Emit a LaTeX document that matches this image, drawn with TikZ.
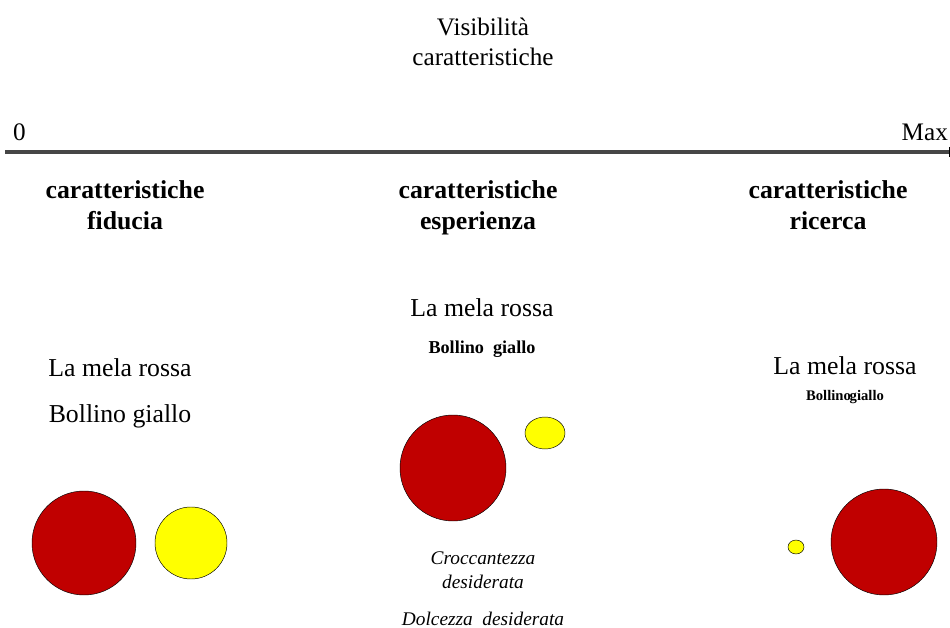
\documentclass[tikz,border=0pt]{standalone}
\usepackage{fontspec}
\setmainfont{Liberation Serif}
\definecolor{mela}{RGB}{192,0,0}
\definecolor{bollino}{RGB}{255,255,0}
\newcommand{\fs}[2]{\fontsize{#1}{#2}\selectfont}
\tikzset{
  apple/.style={circle, draw=black, thin, fill=mela, inner sep=0pt},
  sticker/.style={ellipse, draw=black, thin, fill=bollino, inner sep=0pt},
  header/.style={align=center, anchor=north, inner sep=0pt, font=\fs{22pt}{27pt}\bfseries},
  label/.style={align=center, font=\fs{22pt}{26pt}}
}
\usetikzlibrary{shapes.geometric}
\begin{document}
\begin{tikzpicture}[x=0.03cm, y=-0.03cm]
      \useasboundingbox (0,0) rectangle (950,628);
      \node[label, font=\fs{21.5pt}{26pt}] (vis) at (483,27) {Visibilità};
      \node[label, font=\fs{21.5pt}{26pt}] (car) at (483,57) {caratteristiche};
      % asse della visibilita
      \node[label, font=\fs{21.5pt}{26pt}, anchor=west] (zero) at (9,132) {0};
      \node[label, font=\fs{21.5pt}{26pt}, anchor=east] (max) at (952,132) {Max};
      \coordinate (start) at (5,152);
      \coordinate (end) at (950,152);
      \draw[line width=2.6pt, color=gray!55!black] (start) -- (end);
      \draw[line width=0.8pt] (949,147) -- (949,157);
      \node[header] (fid) at (125,180) {caratteristiche\\fiducia};
      \node[header] (esp) at (478,180) {caratteristiche\\esperienza};
      \node[header] (ric) at (828,180) {caratteristiche\\ricerca};
%       fiducia
      \node[label] (melaA) at (120,368) {La mela rossa};
      \node[label] (bolA) at (120,416) {Bollino giallo};
      \node[apple, minimum size=104*0.03cm] (appleA) at (84,543) {};
      \node[sticker, minimum size=72*0.03cm] (stickA) at (191,543) {};
%       esperienza
      \node[label] (melaB) at (482,308) {La mela rossa};
      \node[font=\fs{15.5pt}{18pt}\bfseries] (bolB) at (482,349) {Bollino\ \ giallo};
      \node[apple, minimum size=106*0.03cm] (appleB) at (453,468) {};
      \node[sticker, minimum width=40*0.03cm, minimum height=32*0.03cm] (stickB) at (545,433) {};
      \node[align=center, font=\fs{16.5pt}{21pt}\itshape] (crocc) at (483,570) {Croccantezza\\desiderata};
      \node[font=\fs{16.5pt}{21pt}\itshape] (dolc) at (483,619) {Dolcezza\ \ desiderata};
%       ricerca
      \node[label] (melaC) at (845,366) {La mela rossa};
      \node[font=\fs{12.5pt}{15pt}\bfseries] (bolC) at (845,397) {Bollino\hspace{-1pt}giallo};
      \node[apple, minimum size=106*0.03cm] (appleC) at (884,542) {};
      \node[sticker, minimum width=16*0.03cm, minimum height=14*0.03cm] (stickC) at (796,547) {};
    \end{tikzpicture}
\end{document}
